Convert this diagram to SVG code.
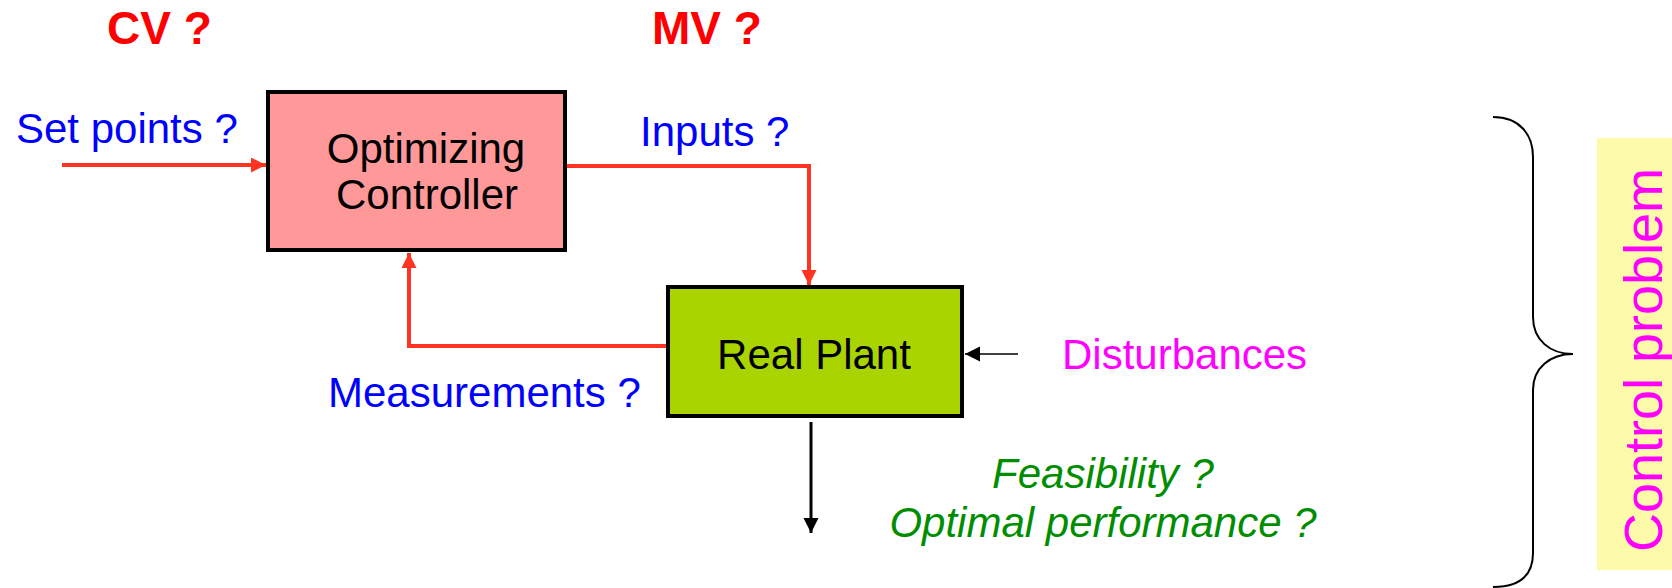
<svg xmlns="http://www.w3.org/2000/svg" width="1672" height="588" viewBox="0 0 1672 588">
<style>
  text { font-family: "Liberation Sans", Arial, sans-serif; }
  .head { font-size: 46px; font-weight: bold; fill: #FF0000; }
  .blue { font-size: 42px; fill: #0000FF; }
  .node { font-size: 42px; fill: #000000; }
  .mag { font-size: 42px; fill: #FF00FF; }
  .green { font-size: 42px; fill: #008E00; font-style: italic; }
  .red { stroke: #FF3322; stroke-width: 4; fill: none; }
  .blk { stroke: #000000; fill: none; }
</style>
<defs>
  <marker id="ar" markerUnits="userSpaceOnUse" markerWidth="17" markerHeight="17" refX="15" refY="7.5" orient="auto">
    <path d="M0,0 L15,7.5 L0,15 z" fill="#FF3322"/>
  </marker>
  <marker id="ab" markerUnits="userSpaceOnUse" markerWidth="18" markerHeight="18" refX="15" refY="7.5" orient="auto">
    <path d="M0,0 L15,7.5 L0,15 z" fill="#000000"/>
  </marker>
</defs>
<rect x="0" y="0" width="1672" height="588" fill="#FFFFFF"/>

<text class="head" x="107" y="44">CV ?</text>
<text class="head" x="652" y="44">MV ?</text>

<g id="controller">
  <rect x="268" y="92" width="297" height="158" fill="#FF9999" stroke="#000000" stroke-width="4"/>
  <text class="node" x="426" y="163" text-anchor="middle">Optimizing</text>
  <text class="node" x="427" y="209" text-anchor="middle">Controller</text>
</g>

<g id="plant">
  <rect x="668" y="287" width="294" height="129" fill="#AAD400" stroke="#000000" stroke-width="4"/>
  <text class="node" x="814" y="369" text-anchor="middle">Real Plant</text>
</g>

<g id="connectors">
  <line class="red" x1="62" y1="165" x2="266" y2="165" marker-end="url(#ar)"/>
  <polyline class="red" points="567,166 809,166 809,285" marker-end="url(#ar)"/>
  <polyline class="red" points="666,346 409,346 409,253" marker-end="url(#ar)"/>
  <line class="blk" stroke-width="3" x1="811" y1="422" x2="811" y2="533" marker-end="url(#ab)"/>
  <line class="blk" stroke-width="1.6" x1="1018" y1="354" x2="965" y2="354" marker-end="url(#ab)"/>
  <path class="blk" stroke-width="2" d="M1493,117 C1520,117 1533,135 1533,157 L1533,317 C1533,340 1550,354 1573,354 C1550,354 1533,368 1533,390 L1533,553 C1533,575 1520,587 1493,587"/>
</g>

<g id="labels">
  <text class="blue" x="16" y="143">Set points ?</text>
  <text class="blue" x="640" y="146">Inputs ?</text>
  <text class="blue" x="328" y="407">Measurements ?</text>
  <text class="mag" x="1062" y="369">Disturbances</text>
  <text class="green" x="1103" y="488" text-anchor="middle">Feasibility ?</text>
  <text class="green" x="1103" y="537" text-anchor="middle">Optimal performance ?</text>
</g>

<g id="control-problem">
  <rect x="1597" y="138" width="75" height="432" fill="#FDFBAA"/>
  <text x="1662" y="360" transform="rotate(-90 1662 360)" text-anchor="middle" font-size="54" fill="#FF00FF">Control problem</text>
</g>
</svg>
